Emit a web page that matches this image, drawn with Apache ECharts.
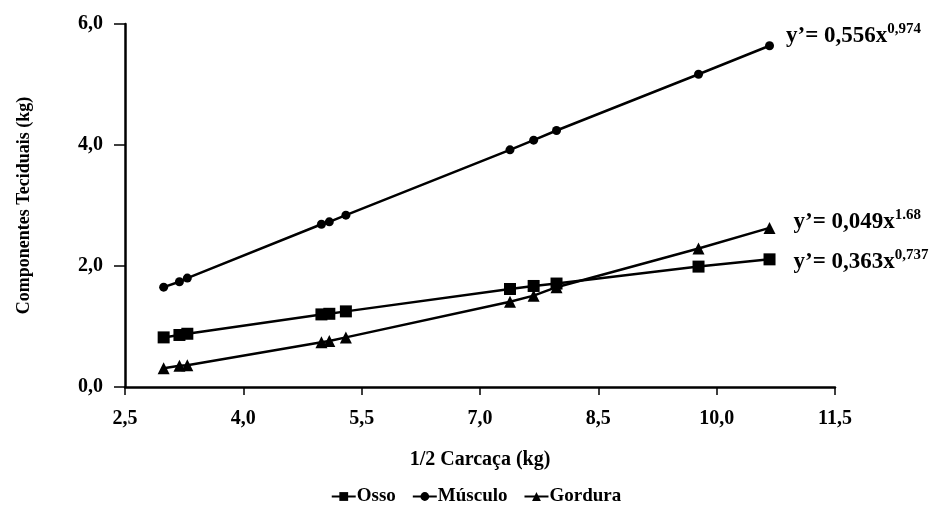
<!DOCTYPE html>
<html><head><meta charset="utf-8">
<script src="https://cdn.jsdelivr.net/npm/echarts@6/dist/echarts.min.js"></script>
<style>html,body{margin:0;padding:0;background:#fff}#c{width:952px;height:508px}</style>
</head><body><div id="c"></div>
<script>
const carcaca = [2.99, 3.19, 3.29, 4.99, 5.09, 5.30, 7.38, 7.68, 7.97, 9.77, 10.67];
const osso    = [0.82, 0.86, 0.88, 1.20, 1.21, 1.25, 1.62, 1.67, 1.71, 1.99, 2.11];
const musculo = [1.65, 1.74, 1.80, 2.69, 2.73, 2.84, 3.92, 4.08, 4.24, 5.17, 5.64];
const gordura = [0.31, 0.35, 0.36, 0.74, 0.76, 0.82, 1.41, 1.51, 1.65, 2.29, 2.63];
const xTicks  = [2.5, 4.0, 5.5, 7.0, 8.5, 10.0, 11.5];
const yTicks  = [0, 2, 4, 6];
const seriesNames = ['Osso', 'Músculo', 'Gordura'];
const equations = [['0,363', '0,737'], ['0,556', '0,974'], ['0,049', '1.68']];

const font = 'Liberation Serif';
function pairs(ys, eq, off, dist) {
  return carcaca.map((x, i) => {
    const d = { value: [x, ys[i]] };
    if (i === carcaca.length - 1) {
      d.label = {
        show: true, position: 'right', distance: dist, offset: off,
        formatter: '{a|y’= ' + eq[0] + 'x}{s|' + eq[1] + '}',
        rich: {
          a: { fontFamily: font, fontSize: 23, fontWeight: 'bold', color: '#000', lineHeight: 26, verticalAlign: 'bottom' },
          s: { fontFamily: font, fontSize: 15, fontWeight: 'bold', color: '#000', lineHeight: 26, verticalAlign: 'top', padding: [0, 0, 9, 0] }
        }
      };
    }
    return d;
  });
}
const common = { type: 'line', color: '#000', lineStyle: { color: '#000', width: 2.5 }, itemStyle: { color: '#000' }, animation: false };
const chart = echarts.init(document.getElementById('c'));
const fmt = v => Number(v).toFixed(1).replace('.', ',');
const tickFont = { fontFamily: font, fontSize: 20, fontWeight: 'bold', color: '#000' };
chart.setOption({
  backgroundColor: '#fff',
  grid: { left: 125, right: 117, top: 24, bottom: 121 },
  xAxis: {
    type: 'value', min: xTicks[0], max: xTicks[xTicks.length - 1],
    name: '1/2 Carcaça (kg)', nameLocation: 'middle', nameGap: 63,
    nameTextStyle: { fontFamily: font, fontSize: 20, fontWeight: 'bold', color: '#000' },
    axisLine: { onZero: false, lineStyle: { color: '#000', width: 2.5 } },
    axisTick: { show: true, length: 8, customValues: xTicks, lineStyle: { color: '#000', width: 1.5 } },
    axisLabel: Object.assign({ margin: 22, customValues: xTicks, formatter: fmt }, tickFont),
    splitLine: { show: false }
  },
  yAxis: {
    type: 'value', min: yTicks[0], max: yTicks[yTicks.length - 1], interval: 2,
    name: 'Componentes Teciduais (kg)', nameLocation: 'middle', nameGap: 92,
    nameTextStyle: { fontFamily: font, fontSize: 18, fontWeight: 'bold', color: '#000' },
    axisLine: { show: true, lineStyle: { color: '#000', width: 2.5 } },
    axisTick: { show: true, length: 11, lineStyle: { color: '#000', width: 1.5 } },
    axisLabel: Object.assign({ margin: 22, formatter: fmt }, tickFont),
    splitLine: { show: false }
  },
  legend: {
    top: 482, left: 'center', itemWidth: 24, itemHeight: 11, itemGap: 16,
    textStyle: { fontFamily: font, fontSize: 19, fontWeight: 'bold', color: '#000', padding: [0, 0, 0, -4] },
    data: seriesNames
  },
  series: [
    Object.assign({}, common, { name: seriesNames[0], symbol: 'rect', symbolSize: 12, data: pairs(osso, equations[0], [0, 1], 18) }),
    Object.assign({}, common, { name: seriesNames[1], symbol: 'circle', symbolSize: 9, data: pairs(musculo, equations[1], [0, -11], 12) }),
    Object.assign({}, common, { name: seriesNames[2], symbol: 'triangle', symbolSize: 12, data: pairs(gordura, equations[2], [0, -7], 18) })
  ]
});
</script></body></html>
